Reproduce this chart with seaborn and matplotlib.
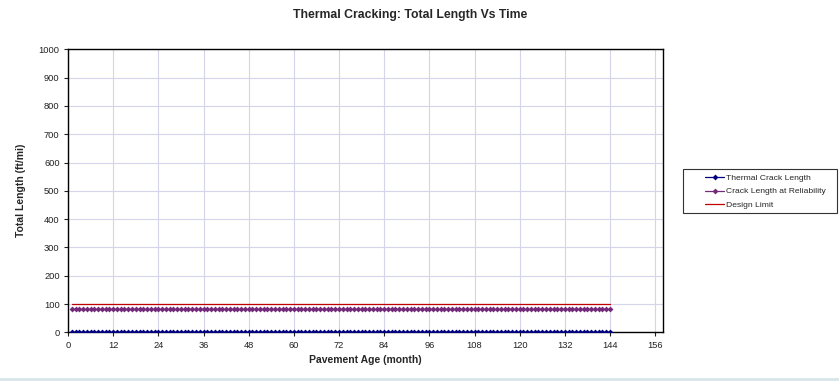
import numpy as np
import pandas as pd
import matplotlib
matplotlib.use("Agg")
import matplotlib.pyplot as plt
from matplotlib.patches import Rectangle
import seaborn as sns

# Monthly pavement age, 1..144 months
months = list(range(1, 145))
thermal_crack_length = [1.0] * len(months)
crack_length_reliability = [83.0] * len(months)
design_limit = [100.0] * len(months)

series_names = ["Thermal Crack Length", "Crack Length at Reliability", "Design Limit"]
x_ticks = list(range(0, 157, 12))
y_ticks = list(range(0, 1001, 100))

df = pd.concat([
    pd.DataFrame({"month": months, "value": thermal_crack_length, "series": series_names[0]}),
    pd.DataFrame({"month": months, "value": crack_length_reliability, "series": series_names[1]}),
    pd.DataFrame({"month": months, "value": design_limit, "series": series_names[2]}),
])

sns.set_theme(style="white")
plt.rcParams["font.family"] = ["Liberation Sans", "DejaVu Sans"]

W, H = 839, 381
fig = plt.figure(figsize=(W / 100, H / 100), dpi=100)
ax = fig.add_axes([68 / W, 1 - 332.3 / H, (662.7 - 68) / W, (332.3 - 49.3) / H])

palette = {series_names[0]: "#000080", series_names[1]: "#742a7a", series_names[2]: "#c00000"}
markers = {series_names[0]: "D", series_names[1]: "D", series_names[2]: None}

for name in series_names:
    sub = df[df["series"] == name]
    sns.lineplot(data=sub, x="month", y="value", ax=ax, color=palette[name],
                 marker=markers[name], markersize=3.0, markeredgewidth=0,
                 linewidth=0.9, label=name, zorder=3)

ax.set_xlim(0, 158)
ax.set_ylim(0, 1000)
ax.set_xticks(x_ticks)
ax.set_yticks(y_ticks)
ax.tick_params(axis="both", labelsize=6.7, colors="#222222", length=3, width=0.8,
               direction="out", bottom=True, left=True, pad=3)
ax.grid(True, color="#d4d4ea", linewidth=0.8)
ax.set_axisbelow(True)
for s in ax.spines.values():
    s.set_color("black")
    s.set_linewidth(1.0)

ax.set_xlabel("Pavement Age (month)", fontsize=7.5, fontweight="bold", labelpad=4)
ax.set_ylabel("Total Length (ft/mi)", fontsize=7.5, fontweight="bold", labelpad=9)
fig.suptitle("Thermal Cracking: Total Length Vs Time", fontsize=8.8, fontweight="bold",
             x=410 / W, y=1 - 15 / H, va="center")

# legend box drawn as a figure-level rectangle, entries inside it
fig.add_artist(Rectangle((683 / W, 1 - 213 / H), (837 - 683) / W, (213 - 169) / H,
                         transform=fig.transFigure, fill=False, edgecolor="#333333",
                         linewidth=0.8))
leg = ax.legend(loc="center left", bbox_to_anchor=(698 / W, 1 - 191.5 / H),
                bbox_transform=fig.transFigure, fontsize=6.1, frameon=False,
                handlelength=2.3, handletextpad=0.15, borderpad=0.3, labelspacing=0.68)

# thin pale strip along the bottom of the figure
fig.add_artist(plt.Line2D([0, 1], [2 / H, 2 / H], color="#d6e6ea", linewidth=2,
                          transform=fig.transFigure))

fig.savefig("out.png", dpi=100)
